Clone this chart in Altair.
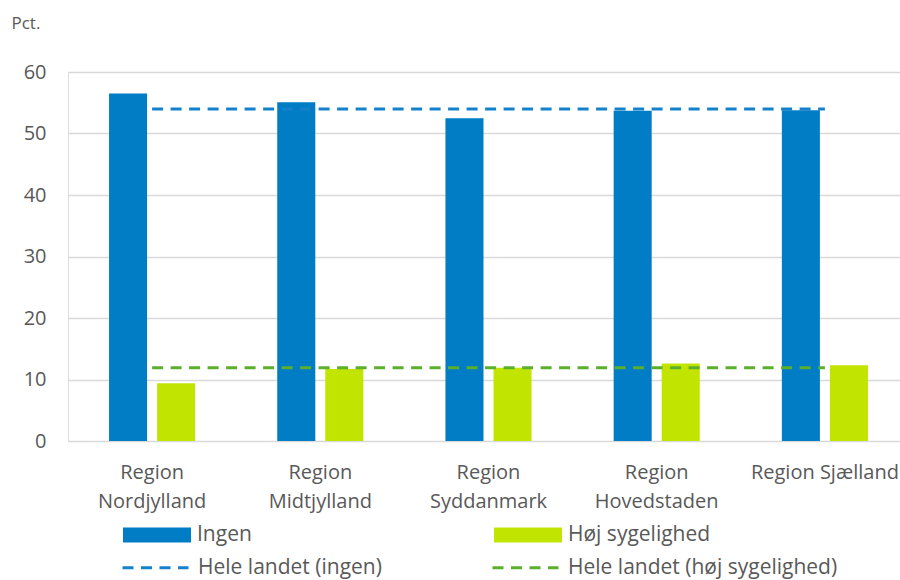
import altair as alt
import pandas as pd

regions = ["Region Nordjylland", "Region Midtjylland", "Region Syddanmark",
           "Region Hovedstaden", "Region Sjælland"]
ingen = [56.5, 55.1, 52.5, 53.7, 53.8]
hoej = [9.4, 11.7, 11.9, 12.6, 12.3]
landet_ingen = 54.0
landet_hoej = 11.9

series_names = ["Ingen", "Høj sygelighed"]
series_colors = ["#007DC5", "#C2E500"]
line_names = ["Hele landet (ingen)", "Hele landet (høj sygelighed)"]
line_colors = ["#1481CC", "#5BAF2D"]
y_ticks = [0, 10, 20, 30, 40, 50, 60]

bars = pd.DataFrame(
    [{"region": r, "series": series_names[0], "value": v} for r, v in zip(regions, ingen)]
    + [{"region": r, "series": series_names[1], "value": v} for r, v in zip(regions, hoej)]
)
lines = pd.DataFrame(
    [{"region": r, "name": line_names[0], "value": landet_ingen} for r in regions]
    + [{"region": r, "name": line_names[1], "value": landet_hoej} for r in regions]
)

FONT = "Open Sans"
GREY = "#595959"
FS = 20
LFS = 21

x_enc = alt.X(
    "region:N",
    sort=regions,
    scale=alt.Scale(range=[0, 841], paddingInner=0, paddingOuter=0),
    axis=alt.Axis(
        title=None, domain=False, ticks=False, grid=False,
        labelFontSize=FS, labelColor=GREY, labelFont=FONT,
        labelPadding=21, labelLineHeight=29, labelAngle=0,
        labelBaseline="top", labelLimit=300,
        labelExpr="datum.value == 'Region Sjælland' ? datum.value : split(datum.value, ' ')",
    ),
)
y_enc = alt.Y(
    "value:Q",
    scale=alt.Scale(domain=[0, 60], nice=False),
    axis=alt.Axis(
        values=y_ticks, title="Pct.", titleAngle=0, titleAlign="left",
        titleBaseline="middle", titleX=-57, titleY=-49, titleFontSize=17,
        titleFontWeight="normal", titleColor=GREY, titleFont=FONT,
        domain=False, ticks=False, grid=True, gridColor="#D9D9D9", gridWidth=1.5,
        labelFontSize=FS, labelColor=GREY, labelFont=FONT, labelPadding=22,
    ),
)

bar_layer = alt.Chart(bars).mark_bar().encode(
    x=x_enc,
    xOffset=alt.XOffset(
        "series:N", sort=series_names,
        scale=alt.Scale(paddingInner=0.2083, paddingOuter=0.854),
    ),
    y=y_enc,
    fill=alt.Fill(
        "series:N",
        scale=alt.Scale(domain=series_names, range=series_colors),
        legend=alt.Legend(
            title=None, orient="none", legendX=55, legendY=429,
            direction="horizontal", columns=2, columnPadding=154, gridAlign="all",
            symbolType="M-1,-0.22L1,-0.22L1,0.22L-1,0.22Z", symbolSize=4624,
            symbolStrokeWidth=0, symbolOpacity=1,
            labelFontSize=LFS, labelColor=GREY, labelFont=FONT, labelOffset=6,
            labelLimit=400, padding=0,
        ),
    ),
)

line_layer = alt.Chart(lines).mark_line(strokeWidth=3, strokeDash=[11, 7.5]).encode(
    x=x_enc,
    y=y_enc,
    stroke=alt.Stroke(
        "name:N",
        scale=alt.Scale(domain=line_names, range=line_colors),
        legend=alt.Legend(
            title=None, orient="none", legendX=53, legendY=461,
            direction="horizontal", columns=2, columnPadding=18, gridAlign="all",
            symbolType="stroke", symbolSize=4356, symbolStrokeWidth=3,
            symbolDash=[11, 7.5],
            labelFontSize=LFS, labelColor=GREY, labelFont=FONT, labelOffset=8,
            labelLimit=400, padding=0,
        ),
    ),
)

chart = alt.layer(bar_layer, line_layer).resolve_legend(
    fill="independent", stroke="independent"
).properties(
    width=832, height=369,
    autosize=alt.AutoSizeParams(type="none"),
    padding={"left": 68, "top": 72, "right": 0, "bottom": 139},
    background="white",
).configure_view(stroke=None).configure(font=FONT)

chart.save("out.html", embed_options={"renderer": "svg", "actions": False})
